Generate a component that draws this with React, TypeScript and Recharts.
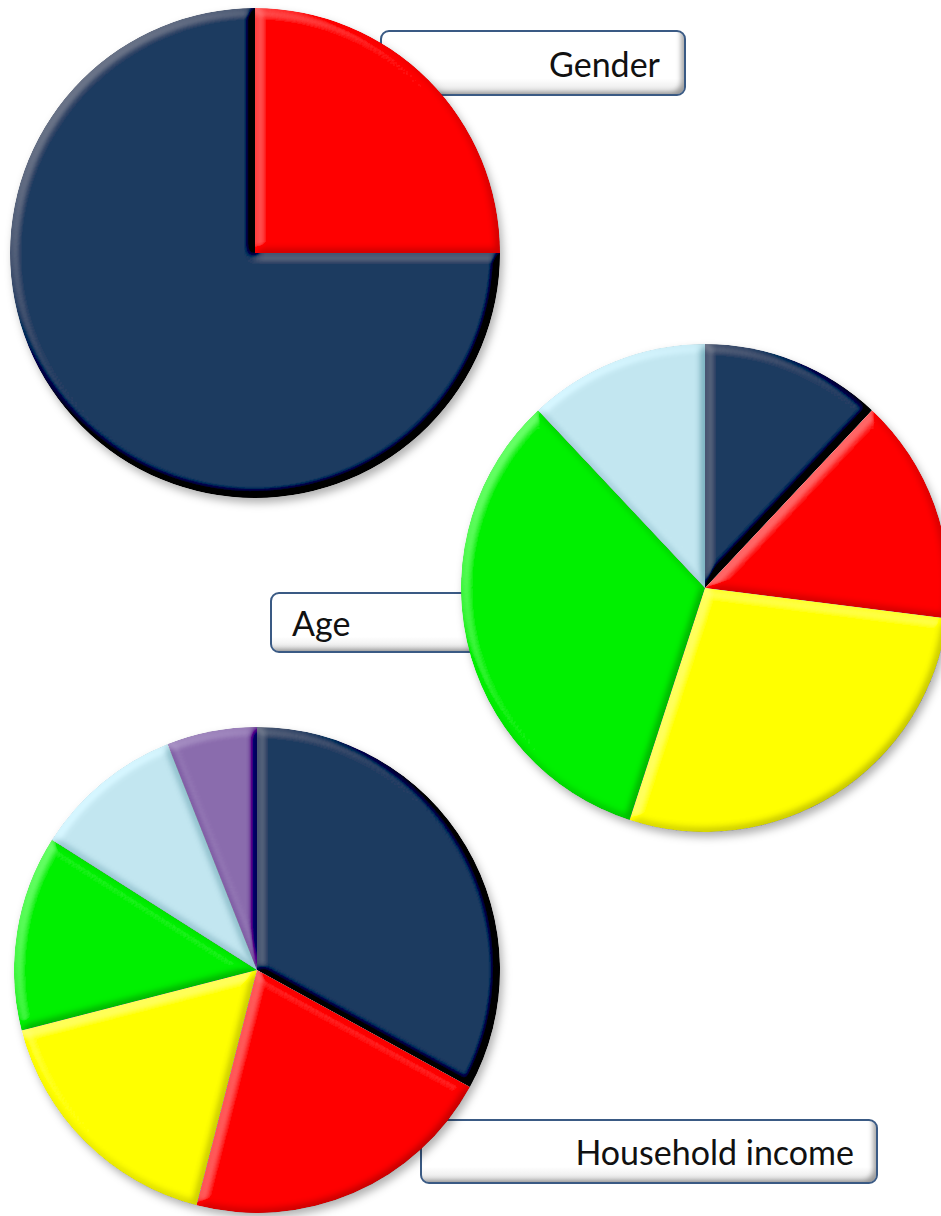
import { PieChart, Pie, Cell } from 'recharts';

const NAVY = '#1e3a60';
const RED = '#ff0000';
const YELLOW = '#ffff00';
const GREEN = '#00f000';
const LIGHTBLUE = '#c2e6f0';
const PURPLE = '#8a6bad';

const genderNames = ['Female', 'Male'];
const genderValues = [25, 75];
const genderColors = [RED, NAVY];

const ageNames = ['A1', 'A2', 'A3', 'A4', 'A5'];
const ageValues = [12, 15, 28, 33, 12];
const ageColors = [NAVY, RED, YELLOW, GREEN, LIGHTBLUE];

const incomeNames = ['I1', 'I2', 'I3', 'I4', 'I5', 'I6'];
const incomeValues = [33, 21, 17, 13, 10, 6];
const incomeColors = [NAVY, RED, YELLOW, GREEN, LIGHTBLUE, PURPLE];

const genderData = genderNames.map((name, i) => ({ name, value: genderValues[i] }));
const ageData = ageNames.map((name, i) => ({ name, value: ageValues[i] }));
const incomeData = incomeNames.map((name, i) => ({ name, value: incomeValues[i] }));

const boxStyle = {
  position: 'absolute' as const,
  boxSizing: 'border-box' as const,
  border: '2px solid #3a5a84',
  borderRadius: 9,
  background: 'linear-gradient(#ffffff 0%, #ffffff 75%, #e4e4e4 100%)',
  boxShadow: 'inset -6px -5px 5px -3px rgba(0,0,0,0.35)',
  fontFamily: 'Lato, "Open Sans", sans-serif',
  fontSize: 34,
  color: '#111',
  display: 'flex',
  alignItems: 'center',
};

function Slices({ colors }: { colors: string[] }) {
  return (
    <>
      {colors.map((c, i) => (
        <Cell key={i} fill={c} stroke="none" filter="url(#bevel)" />
      ))}
    </>
  );
}

export default function App() {
  return (
    <div style={{ position: 'absolute', left: 0, top: 0, width: 941, height: 1216, overflow: 'hidden', background: '#fff' }}>
      <div style={{ ...boxStyle, left: 380, top: 30, width: 306, height: 66, justifyContent: 'flex-end', paddingRight: 24 }}>
        Gender
      </div>
      <div style={{ ...boxStyle, left: 270, top: 592, width: 260, height: 61, paddingLeft: 20 }}>
        Age
      </div>
      <div style={{ ...boxStyle, left: 420, top: 1119, width: 458, height: 65, justifyContent: 'flex-end', paddingRight: 22 }}>
        Household income
      </div>
      <div style={{ position: 'absolute', left: 0, top: 0 }}>
        <style>{`.recharts-pie { filter: url(#shadow); }`}</style>
        <PieChart width={941} height={1216} margin={{ top: 0, right: 0, bottom: 0, left: 0 }}>
          <defs>
            <filter id="bevel" x="-10%" y="-10%" width="120%" height="120%">
              <feGaussianBlur in="SourceAlpha" stdDeviation="4" result="blur" />
              <feDiffuseLighting in="blur" surfaceScale="6" diffuseConstant="1" lightingColor="#ffffff" result="light">
                <feDistantLight azimuth={225} elevation={50} />
              </feDiffuseLighting>
              <feComposite in="SourceGraphic" in2="light" operator="arithmetic" k1={0} k2={1} k3={0.55} k4={-0.42} result="lit" />
              <feComposite in="lit" in2="SourceAlpha" operator="in" />
            </filter>
            <filter id="shadow" x="-10%" y="-10%" width="120%" height="120%">
              <feDropShadow dx="3" dy="5" stdDeviation="4" floodColor="#000" floodOpacity="0.3" />
            </filter>
          </defs>
          <Pie
            data={genderData}
            dataKey="value"
            cx={255}
            cy={253}
            outerRadius={245}
            startAngle={90}
            endAngle={-270}
            isAnimationActive={false}
          >
            {Slices({ colors: genderColors })}
          </Pie>
          <Pie
            data={ageData}
            dataKey="value"
            cx={705}
            cy={588}
            outerRadius={244}
            startAngle={90}
            endAngle={-270}
            isAnimationActive={false}
          >
            {Slices({ colors: ageColors })}
          </Pie>
          <Pie
            data={incomeData}
            dataKey="value"
            cx={257}
            cy={970}
            outerRadius={243}
            startAngle={90}
            endAngle={-270}
            isAnimationActive={false}
          >
            {Slices({ colors: incomeColors })}
          </Pie>
        </PieChart>
      </div>
    </div>
  );
}
